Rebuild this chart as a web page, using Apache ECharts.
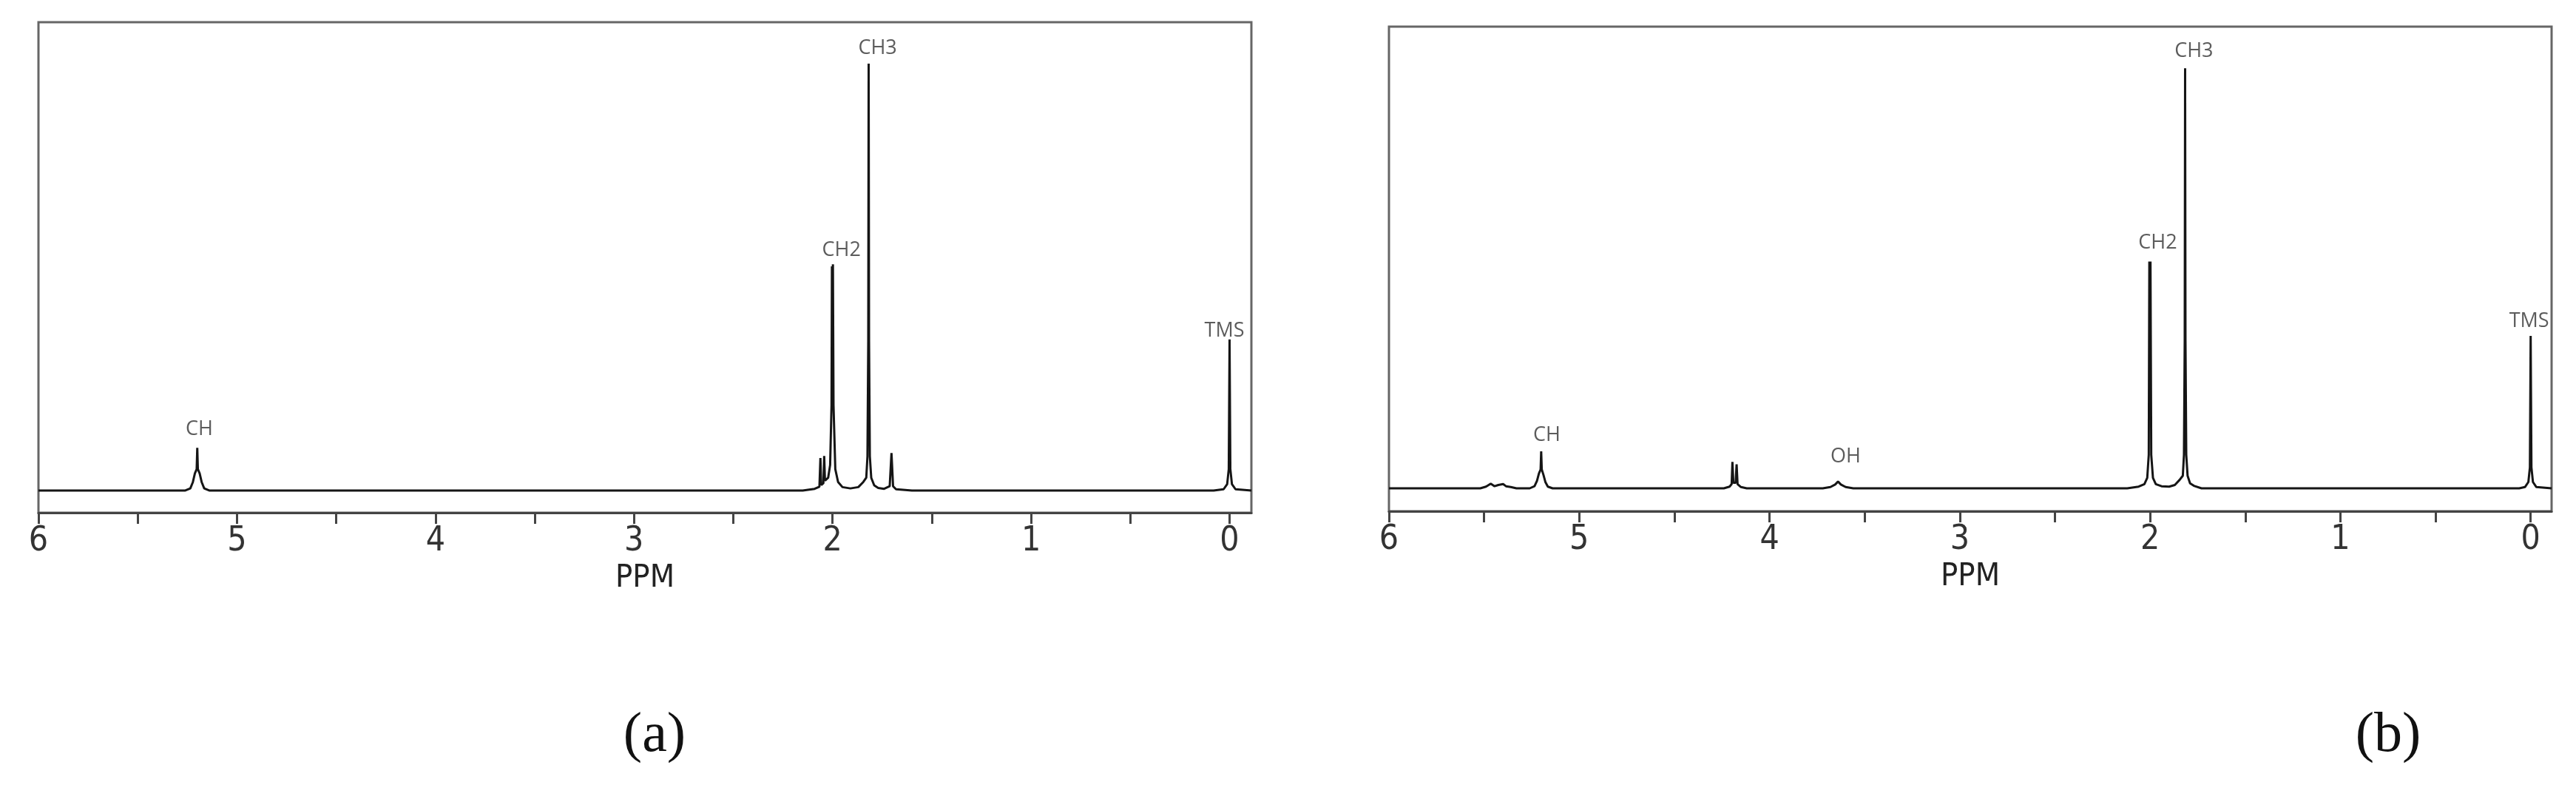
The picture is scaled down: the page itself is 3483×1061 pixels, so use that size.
<!DOCTYPE html>
<html>
<head>
<meta charset="utf-8">
<script src="https://cdn.jsdelivr.net/npm/echarts@6/dist/echarts.min.js"></script>
<style>
html,body{margin:0;padding:0;background:#fff;}
#chart{width:3483px;height:1061px;}
</style>
</head>
<body>
<div id="chart"></div>
<script>
// Spectrum (a): [chemical shift ppm, relative intensity]
const spectrumA = [
  [6.00,0],[5.26,0],[5.235,0.5],[5.222,2.0],[5.212,4.0],[5.203,5.0],[5.200,10.0],[5.197,5.0],[5.188,4.0],[5.178,2.0],[5.165,0.5],[5.14,0],
  [2.15,0],[2.09,0.4],[2.066,0.9],[2.061,7.6],[2.057,1.3],[2.046,1.7],[2.042,8.1],[2.038,2.3],[2.022,3.0],[2.012,6.0],[2.005,20],[2.003,52.5],[2.000,44],[1.998,53],[1.995,20],[1.986,5],[1.972,2],[1.95,0.8],[1.91,0.5],[1.87,0.8],[1.845,2],[1.830,3],[1.824,8],[1.820,35],[1.818,100],[1.816,35],[1.812,8],[1.805,3],[1.79,1.2],[1.77,0.6],[1.74,0.4],[1.712,1],[1.703,8.8],[1.695,1],[1.68,0.3],[1.60,0],
  [0.08,0],[0.03,0.3],[0.012,1.5],[0.004,5],[0.000,35.4],[-0.004,5],[-0.012,1.5],[-0.03,0.3],[-0.11,0]
];
// Spectrum (b)
const spectrumB = [
  [6.00,0],[5.52,0],[5.49,0.4],[5.465,1.1],[5.445,0.5],[5.425,0.8],[5.40,1.0],[5.385,0.5],[5.36,0.3],[5.33,0],
  [5.26,0],[5.235,0.5],[5.222,1.8],[5.212,3.5],[5.203,4.5],[5.200,8.8],[5.197,4.5],[5.188,3.2],[5.178,1.5],[5.165,0.4],[5.14,0],
  [4.24,0],[4.21,0.4],[4.199,1.0],[4.195,6.3],[4.190,1.3],[4.178,1.3],[4.173,5.7],[4.168,1.0],[4.15,0.3],[4.12,0],
  [3.72,0],[3.68,0.3],[3.655,0.9],[3.64,1.6],[3.625,0.9],[3.60,0.3],[3.56,0],
  [2.12,0],[2.06,0.4],[2.03,1.0],[2.015,2.5],[2.007,8],[2.004,54],[2.001,38],[1.998,54],[1.994,8],[1.985,2.5],[1.97,1],[1.94,0.5],[1.90,0.4],[1.87,0.8],[1.845,2],[1.828,3],[1.822,8],[1.818,35],[1.816,100],[1.814,35],[1.810,8],[1.803,3],[1.79,1.2],[1.77,0.6],[1.73,0],
  [0.06,0],[0.03,0.3],[0.012,1.5],[0.004,5],[0.000,36.3],[-0.004,5],[-0.012,1.5],[-0.03,0.3],[-0.11,0]
];
// Peak annotations
const labelTextA = ['CH','CH2','CH3','TMS'];
const labelPpmA  = [5.19, 1.955, 1.773, 0.026];
const labelIntA  = [14.4, 56.3, 103.6, 37.3];
const labelTextB = ['CH','OH','CH2','CH3','TMS'];
const labelPpmB  = [5.17, 3.60, 1.96, 1.77, 0.008];
const labelIntB  = [12.7, 7.6, 58.5, 104.0, 39.8];
// Axis ticks
const tickLabels = [0,1,2,3,4,5,6];
const tickMarks  = [0,0.5,1,1.5,2,2.5,3,3.5,4,4.5,5,5.5,6];
const axisName = 'PPM';
const captions = ['(a)','(b)'];

const chart = echarts.init(document.getElementById('chart'));

function xAxisFor(gi){
  return {
    type:'value', gridIndex:gi, inverse:true, min:-0.11, max:6,
    name:axisName, nameLocation:'middle', nameGap:60,
    nameTextStyle:{fontFamily:'Liberation Sans Narrow, DejaVu Sans Condensed, sans-serif', fontSize:43, color:'#222', lineHeight:43},
    axisLine:{show:true, onZero:false, lineStyle:{color:'#444', width:3}},
    axisTick:{show:true, customValues:tickMarks, length:15, inside:false, lineStyle:{color:'#444', width:3}},
    axisLabel:{show:true, customValues:tickLabels, margin:16, fontFamily:'Liberation Sans Narrow, DejaVu Sans Condensed, sans-serif', fontSize:46, lineHeight:46, color:'#333', formatter:v=>String(Math.round(v))},
    splitLine:{show:false}
  };
}
function yAxisFor(gi, mn, mx){
  return {type:'value', gridIndex:gi, min:mn, max:mx, show:false, splitLine:{show:false}};
}
function labelSeries(idx, texts, ppms, ints){
  return {
    type:'scatter', xAxisIndex:idx, yAxisIndex:idx, symbolSize:0, silent:true,
    data: ppms.map((p,i)=>[p, ints[i], texts[i]]),
    label:{show:true, position:'inside', formatter:p=>p.value[2], fontFamily:'Open Sans, sans-serif', fontSize:27, color:'#333'},
    z:5
  };
}
function lineSeries(idx, data){
  return {
    type:'line', xAxisIndex:idx, yAxisIndex:idx, data:data, symbol:'none', silent:true,
    lineStyle:{color:'#151515', width:3}, z:3
  };
}

chart.setOption({
  animation:false,
  backgroundColor:'#fff',
  grid:[
    {left:52, top:30, width:1640, height:663, show:true, borderColor:'#666', borderWidth:3, backgroundColor:'transparent'},
    {left:1878, top:36, width:1572, height:655, show:true, borderColor:'#666', borderWidth:3, backgroundColor:'transparent'}
  ],
  xAxis:[xAxisFor(0), xAxisFor(1)],
  yAxis:[yAxisFor(0,-5.2,109.7), yAxisFor(1,-5.46,109.9)],
  series:[
    lineSeries(0, spectrumA),
    lineSeries(1, spectrumB),
    labelSeries(0, labelTextA, labelPpmA, labelIntA),
    labelSeries(1, labelTextB, labelPpmB, labelIntB)
  ],
  graphic:[
    {type:'text', x:885, y:995, style:{text:captions[0], font:'76px "Liberation Serif", serif', fill:'#111', align:'center', verticalAlign:'middle'}},
    {type:'text', x:3229, y:995, style:{text:captions[1], font:'76px "Liberation Serif", serif', fill:'#111', align:'center', verticalAlign:'middle'}}
  ]
});
</script>
</body>
</html>
